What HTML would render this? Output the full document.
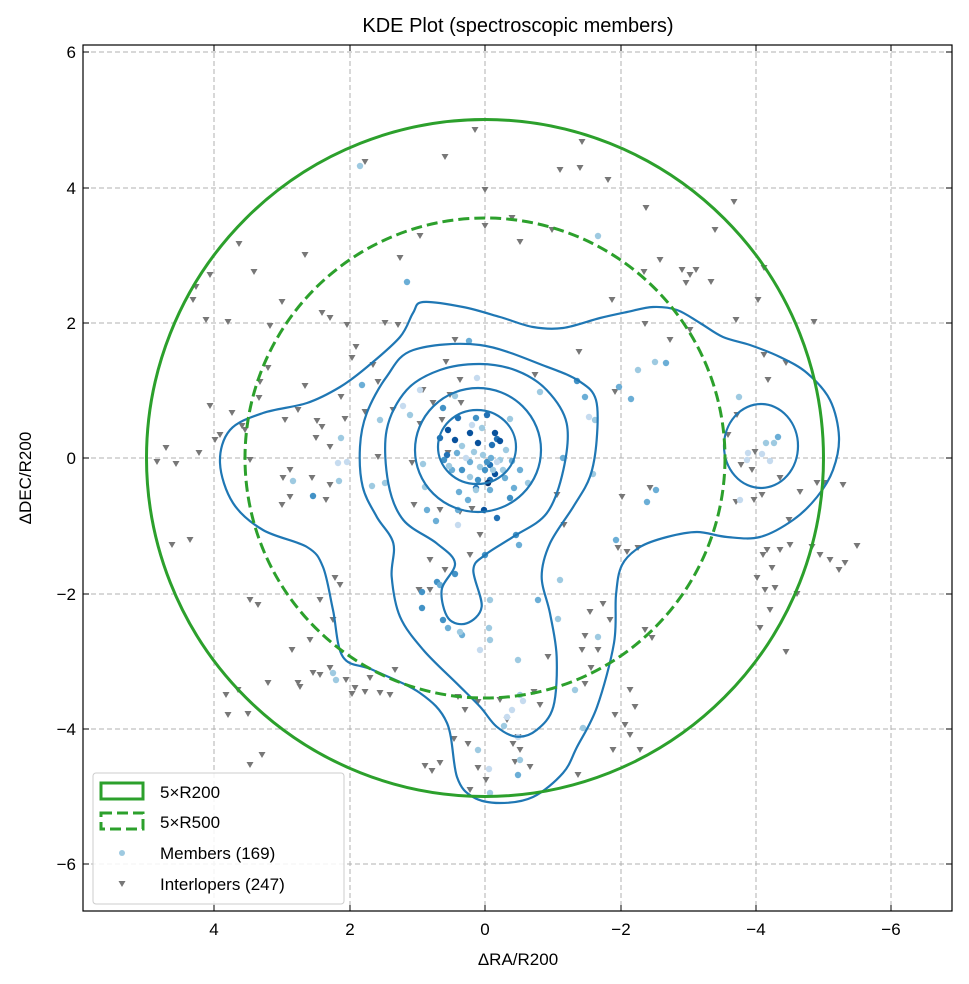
<!DOCTYPE html>
<html><head><meta charset="utf-8"><style>
body{margin:0;background:#fff;width:969px;height:984px;overflow:hidden}
svg{display:block;font-family:"Liberation Sans","DejaVu Sans",sans-serif}
</style></head><body>
<svg id="s" width="969" height="984" viewBox="0 0 969 984" xmlns="http://www.w3.org/2000/svg">
<rect width="969" height="984" fill="#fff"/>
<g stroke="#b0b0b0" stroke-width="1" stroke-dasharray="5,3">
<line x1="214" y1="45" x2="214" y2="911"/><line x1="350" y1="45" x2="350" y2="911"/><line x1="485" y1="45" x2="485" y2="911"/><line x1="621" y1="45" x2="621" y2="911"/><line x1="756" y1="45" x2="756" y2="911"/><line x1="891" y1="45" x2="891" y2="911"/>
<line x1="83" y1="52" x2="952" y2="52"/><line x1="83" y1="188" x2="952" y2="188"/><line x1="83" y1="323" x2="952" y2="323"/><line x1="83" y1="458" x2="952" y2="458"/><line x1="83" y1="594" x2="952" y2="594"/><line x1="83" y1="729" x2="952" y2="729"/><line x1="83" y1="864" x2="952" y2="864"/>
</g>
<g id="tri" fill="#777"></g>
<g id="mem"></g>
<g id="cont" fill="none" stroke="#1f77b4" stroke-width="2.2"></g>
<circle cx="485" cy="458" r="338.5" fill="none" stroke="#2ca02c" stroke-width="3"/>
<circle cx="485" cy="458" r="240" fill="none" stroke="#2ca02c" stroke-width="3" stroke-dasharray="11,5"/>
<rect x="83" y="45" width="869" height="866" fill="none" stroke="#000" stroke-width="1.2"/>
<g stroke="#000" stroke-width="1">
<path d="M214 911v-6M350 911v-6M485 911v-6M621 911v-6M756 911v-6M891 911v-6M214 45v6M350 45v6M485 45v6M621 45v6M756 45v6M891 45v6"/>
<path d="M83 52h6M83 188h6M83 323h6M83 458h6M83 594h6M83 729h6M83 864h6M952 52h-6M952 188h-6M952 323h-6M952 458h-6M952 594h-6M952 729h-6M952 864h-6"/>
</g>
<g font-size="17" fill="#000" text-anchor="middle">
<text x="214" y="935">4</text><text x="350" y="935">2</text><text x="485" y="935">0</text><text x="621" y="935">−2</text><text x="756" y="935">−4</text><text x="891" y="935">−6</text>
</g>
<g font-size="17" fill="#000" text-anchor="end">
<text x="76" y="58">6</text><text x="76" y="194">4</text><text x="76" y="329">2</text><text x="76" y="464">0</text><text x="76" y="600">−2</text><text x="76" y="735">−4</text><text x="76" y="870">−6</text>
</g>
<text x="518" y="32" font-size="20" text-anchor="middle">KDE Plot (spectroscopic members)</text>
<text x="518" y="965" font-size="17" text-anchor="middle">ΔRA/R200</text>
<text transform="translate(31,478) rotate(-90)" font-size="17" text-anchor="middle">ΔDEC/R200</text>
<rect x="93" y="773" width="251" height="131" rx="3" fill="#fff" fill-opacity="0.85" stroke="#ccc"/>
<rect x="101" y="783" width="42" height="16" fill="none" stroke="#2ca02c" stroke-width="3"/>
<rect x="101" y="813" width="42" height="16" fill="none" stroke="#2ca02c" stroke-width="3" stroke-dasharray="11,5"/>
<circle cx="122" cy="853" r="3" fill="#9ecae1"/>
<path d="M118.5 881h7l-3.5 6z" fill="#777"/>
<g font-size="17" fill="#000">
<text x="160" y="798">5×R200</text><text x="160" y="828">5×R500</text><text x="160" y="859">Members (169)</text><text x="160" y="890">Interlopers (247)</text>
</g>
</svg>
<script>
const NS="http://www.w3.org/2000/svg";
function el(t,a,p){const e=document.createElementNS(NS,t);for(const k in a)e.setAttribute(k,a[k]);p.appendChild(e);return e;}
const T=[[475,130],[520,242],[552,230],[608,180],[580,168],[445,157],[365,162],[582,142],[485,226],[512,218],[420,236],[400,258],[398,325],[385,323],[347,325],[270,326],[228,322],[206,320],[193,300],[196,287],[210,275],[254,272],[239,244],[305,255],[282,302],[322,313],[330,318],[356,347],[352,358],[373,365],[378,382],[341,397],[345,419],[305,386],[298,410],[285,420],[268,368],[260,382],[259,398],[245,430],[232,413],[210,406],[215,440],[220,435],[199,453],[166,448],[157,462],[176,464],[190,540],[172,545],[242,426],[250,460],[316,438],[322,427],[317,421],[330,447],[365,412],[393,410],[420,424],[442,420],[448,453],[423,390],[378,457],[330,485],[326,500],[312,478],[282,505],[290,497],[290,470],[283,478],[250,600],[258,605],[320,600],[333,620],[310,640],[340,585],[335,578],[226,695],[238,690],[268,683],[248,714],[228,715],[250,765],[262,755],[292,650],[298,683],[300,687],[313,673],[320,675],[330,668],[346,680],[352,694],[355,688],[365,692],[370,678],[380,693],[395,670],[390,695],[425,766],[432,771],[440,763],[458,697],[465,710],[478,702],[468,744],[454,739],[470,790],[478,768],[486,780],[500,700],[507,720],[513,744],[518,737],[520,750],[515,762],[534,692],[540,705],[530,767],[578,775],[548,657],[585,684],[591,668],[598,650],[630,690],[635,707],[625,725],[630,735],[645,630],[652,638],[610,620],[585,636],[590,612],[582,650],[603,604],[615,715],[640,750],[613,750],[560,170],[646,208],[660,260],[644,272],[612,300],[645,324],[682,270],[690,275],[686,283],[696,270],[711,282],[715,230],[734,202],[764,268],[758,300],[736,320],[690,330],[670,340],[764,355],[786,363],[814,322],[768,380],[737,415],[728,435],[755,452],[741,465],[752,470],[780,478],[800,492],[817,483],[825,483],[736,502],[754,500],[762,495],[650,488],[615,392],[622,497],[638,548],[627,552],[767,550],[763,555],[780,550],[790,545],[772,568],[757,578],[765,590],[797,594],[775,588],[770,610],[820,555],[812,547],[830,560],[839,570],[845,563],[857,546],[843,485],[789,520],[786,652],[760,628],[618,548],[564,525],[557,495],[485,190],[455,340],[446,362],[460,380],[450,395],[461,403],[433,403],[470,555],[480,535],[445,570],[430,560],[430,590],[419,590],[472,509],[460,512],[440,510],[412,463],[414,505],[535,375],[579,352]];
const tg=document.getElementById('tri');
T.forEach(([x,y])=>el('path',{d:`M${x-3.5} ${y-3}h7l-3.5 6z`},tg));
const C=['#c6dbef','#9ecae1','#6baed6','#4292c6','#2171b5','#08519c','#08306b'];
const M=[[360,166,1],[407,282,2],[598,236,1],[469,341,2],[477,378,0],[540,392,1],[577,381,3],[585,397,2],[589,417,0],[619,387,2],[638,370,1],[655,362,1],[666,363,2],[631,399,2],[739,397,1],[748,453,0],[762,454,0],[766,443,1],[774,443,1],[778,437,2],[747,460,0],[770,461,0],[740,500,0],[656,490,2],[647,502,2],[593,474,1],[595,420,1],[563,458,2],[338,463,0],[347,462,0],[313,496,3],[293,481,1],[339,481,1],[372,486,1],[385,483,1],[403,406,0],[410,415,1],[341,438,1],[423,464,1],[380,420,1],[420,390,0],[425,487,1],[458,510,2],[437,582,3],[440,585,2],[422,592,3],[422,608,3],[455,574,3],[443,620,3],[448,628,2],[462,635,2],[460,632,1],[490,600,1],[489,628,1],[490,640,1],[480,650,0],[518,660,1],[520,695,1],[523,701,0],[512,710,0],[507,717,0],[518,737,0],[520,760,1],[518,775,2],[490,793,1],[489,769,0],[478,750,1],[504,726,1],[575,690,1],[583,728,1],[598,637,1],[616,540,2],[558,619,1],[538,600,2],[560,580,1],[485,555,3],[458,525,0],[520,470,2],[528,483,1],[519,545,2],[497,518,4],[516,535,3],[436,521,2],[427,510,2],[490,480,4],[476,488,4],[333,673,1],[336,680,1],[362,385,2],[510,419,1],[455,396,1],[443,408,3],[490,465,4],[470,462,2],[497,439,4],[462,446,1],[448,430,5],[440,438,4],[455,440,5],[447,455,4],[470,433,5],[478,443,5],[492,445,4],[495,433,5],[500,441,5],[487,462,3],[483,455,1],[480,467,1],[491,458,2],[474,452,1],[466,458,0],[457,453,2],[485,470,3],[495,474,5],[490,490,2],[478,480,3],[470,477,1],[488,483,6],[512,461,2],[506,450,1],[503,470,1],[462,470,3],[452,470,2],[510,498,3],[514,488,2],[468,500,2],[484,510,5],[476,418,3],[487,415,4],[458,418,4],[476,490,1],[500,460,1],[505,478,2],[444,460,3],[449,466,1],[472,425,0],[482,428,1],[497,462,0],[493,470,1],[459,492,2]];
const mg=document.getElementById('mem');
M.forEach(([x,y,c])=>el('circle',{cx:x,cy:y,r:3.2,fill:C[c]},mg));
function cr(p){let d=`M${p[0][0]} ${p[0][1]}`;const n=p.length;for(let i=0;i<n;i++){const p0=p[(i-1+n)%n],p1=p[i],p2=p[(i+1)%n],p3=p[(i+2)%n];
d+=`C${p1[0]+(p2[0]-p0[0])/6} ${p1[1]+(p2[1]-p0[1])/6} ${p2[0]-(p3[0]-p1[0])/6} ${p2[1]-(p3[1]-p1[1])/6} ${p2[0]} ${p2[1]}`;}return d+'Z';}
const cg=document.getElementById('cont');
el('ellipse',{cx:477,cy:447,rx:39,ry:37},cg);
el('ellipse',{cx:478,cy:450,rx:63,ry:62},cg);
el('ellipse',{cx:761,cy:446,rx:37,ry:42},cg);
const z=(a)=>a.map(([x,y])=>[x/3+180,y/3+290]);
el('path',{d:cr(z([[900,222],[1010,242],[1100,300],[1160,400],[1150,540],[1100,670],[1000,740],[915,795],[880,840],[905,950],[860,1000],[805,985],[785,900],[825,820],[770,760],[670,690],[625,580],[620,420],[680,300],[780,240]]))},cg);
el('path',{d:cr(z([[700,180],[900,165],[1100,230],[1200,275],[1248,330],[1250,450],[1230,560],[1180,650],[1110,760],[1085,860],[1110,970],[1130,1100],[1120,1250],[1070,1320],[1010,1340],[950,1310],[900,1250],[830,1180],[730,1080],[660,980],[635,860],[640,760],[590,680],[548,590],[540,470],[560,370],[620,260]]))},cg);
const O=[[423,302],[463,307],[500,317],[533,327],[563,328],[600,318],[627,312],[653,307],[677,310],[700,323],[723,337],[750,345],[780,357],[807,373],[830,400],[839,437],[833,470],[817,497],[793,520],[760,537],[727,537],[697,532],[667,537],[640,547],[622,565],[616,595],[614,643],[597,707],[577,747],[563,773],[533,797],[500,803],[473,797],[457,777],[447,723],[420,693],[373,670],[343,657],[333,610],[323,567],[307,547],[263,530],[233,503],[220,463],[230,430],[263,413],[307,403],[340,387],[367,367],[400,337],[413,313]];
el('path',{d:cr(O)},cg);
</script>
</body></html>
